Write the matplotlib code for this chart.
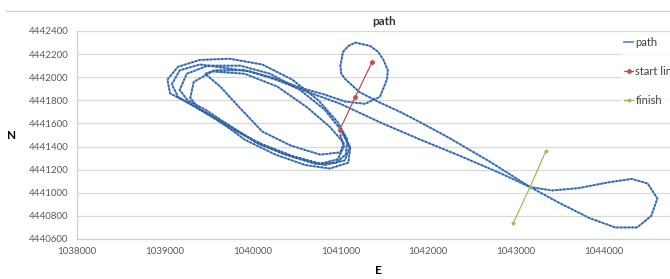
import matplotlib
matplotlib.use("Agg")
import matplotlib.pyplot as plt
from matplotlib.lines import Line2D

# track (E, N)
path_e = [1041000, 1041040, 1040970, 1040770, 1040430, 1040080, 1039740, 1039460, 1039260, 1039170,
          1039250, 1039490, 1039860, 1040200, 1040540, 1040820, 1041020, 1041110, 1041090, 1040880,
          1040600, 1040260, 1039910, 1039570, 1039260, 1039060, 1039030, 1039150, 1039400, 1039740,
          1040110, 1040450, 1040750, 1040970, 1041080, 1041060, 1040950, 1040720, 1040370, 1040030,
          1039690, 1039400, 1039290, 1039330, 1039540, 1039910, 1040280, 1040620, 1040880, 1041040,
          1041000, 1040770, 1040430, 1040110, 1039860, 1039630, 1039460, 1039570, 1039910, 1040260,
          1040540, 1040820, 1041050, 1041280, 1041450, 1041530, 1041540, 1041490, 1041430, 1041340,
          1041170, 1041090, 1041030, 1041000, 1041010, 1041060, 1041220, 1041450, 1041680, 1041910,
          1042250, 1042700, 1043160, 1043500, 1043840, 1044130, 1044380, 1044540, 1044610, 1044500,
          1044320, 1044050, 1043710, 1043410, 1043160, 1042820, 1042360, 1041910, 1041450, 1041000,
          1040600, 1040260, 1039970, 1039690, 1039400, 1039170, 1039080, 1039150, 1039400, 1039740,
          1040110, 1040480, 1040820, 1041050, 1041110, 1041020]
path_n = [4441500, 4441400, 4441290, 4441250, 4441320, 4441420, 4441580, 4441720, 4441800, 4441890,
          4442030, 4442100, 4442100, 4442030, 4441890, 4441720, 4441530, 4441380, 4441260, 4441210,
          4441240, 4441330, 4441460, 4441650, 4441780, 4441860, 4441980, 4442090, 4442150, 4442160,
          4442110, 4441980, 4441800, 4441610, 4441460, 4441330, 4441260, 4441250, 4441330, 4441440,
          4441600, 4441720, 4441820, 4441960, 4442050, 4442030, 4441920, 4441740, 4441570, 4441430,
          4441350, 4441330, 4441410, 4441530, 4441730, 4441920, 4442030, 4442060, 4442060, 4441990,
          4441910, 4441850, 4441790, 4441770, 4441830, 4441980, 4442060, 4442150, 4442220, 4442270,
          4442300, 4442270, 4442220, 4442100, 4442030, 4441980, 4441870, 4441780, 4441700, 4441610,
          4441470, 4441270, 4441050, 4440910, 4440780, 4440700, 4440700, 4440800, 4440950, 4441080,
          4441120, 4441090, 4441040, 4441020, 4441050, 4441170, 4441320, 4441460, 4441610, 4441770,
          4441880, 4441980, 4442050, 4442080, 4442110, 4442060, 4441940, 4441830, 4441720, 4441560,
          4441420, 4441310, 4441240, 4441280, 4441400, 4441520]

start_e = [1040990, 1041170, 1041360]
start_n = [4441540, 4441830, 4442130]
finish_e = [1042970, 1043160, 1043340]
finish_n = [4440740, 4441050, 4441360]

x_ticks = [1038000, 1039000, 1040000, 1041000, 1042000, 1043000, 1044000]
y_ticks = [4440600, 4440800, 4441000, 4441200, 4441400, 4441600, 4441800, 4442000, 4442200, 4442400]

plt.rcParams['font.family'] = ['Lato', 'DejaVu Sans']

fig = plt.figure(figsize=(6.7, 2.79), dpi=100)
ax = fig.add_axes([77 / 670, 1 - 239 / 279, 614.6 / 670, 208 / 279])

ax.plot(path_e, path_n, color='#5f8fcf', lw=1.3, zorder=3, label='path')
ax.plot(path_e, path_n, color='#2d5a98', lw=1.3, ls=(0, (0.8, 1.3)), zorder=4)
ax.plot(start_e, start_n, color='#c0504d', lw=0.9, marker='D', ms=2.2, zorder=5, label='start line')
ax.plot(finish_e, finish_n, color='#9bbb59', lw=0.9, marker='D', ms=1.5, zorder=5, label='finish')

ax.set_xlim(1038000, 1045000)
ax.set_ylim(y_ticks[0], y_ticks[-1])
ax.set_xticks(x_ticks)
ax.set_yticks(y_ticks)
ax.set_xticklabels([str(v) for v in x_ticks])
ax.set_yticklabels([str(v) for v in y_ticks])
ax.tick_params(labelsize=7, colors='#595959', length=0, pad=6)
ax.grid(axis='y', color='#d9d9d9', lw=0.9)
ax.set_axisbelow(True)
for s in ['top', 'right']:
    ax.spines[s].set_visible(False)
for s in ['left', 'bottom']:
    ax.spines[s].set_color('#d0d0d0')
    ax.spines[s].set_linewidth(0.9)

ax.set_title('path', fontsize=8.5, fontweight='bold', color='#333333', pad=4)
fig.text(12 / 670, 1 - 136 / 279, 'N', fontsize=8.5, fontweight='bold', ha='center', va='center')
fig.text(378 / 670, 1 - 271 / 279, 'E', fontsize=8.5, fontweight='bold', ha='center', va='center')

leg = fig.legend(loc='upper left', bbox_to_anchor=(621 / 670, 1 - 34 / 279), fontsize=8,
                 handlelength=0.8, handletextpad=0.2, labelspacing=1.6, borderaxespad=0,
                 borderpad=0.3, frameon=True, fancybox=False)
leg.get_frame().set_facecolor('white')
leg.get_frame().set_edgecolor('white')
for t in leg.get_texts():
    t.set_color('#404040')

fig.add_artist(Line2D([6 / 670, 1], [1 - 11 / 279, 1 - 11 / 279], color='#d0d0d0', lw=0.9))

fig.savefig('out.png', dpi=100)
